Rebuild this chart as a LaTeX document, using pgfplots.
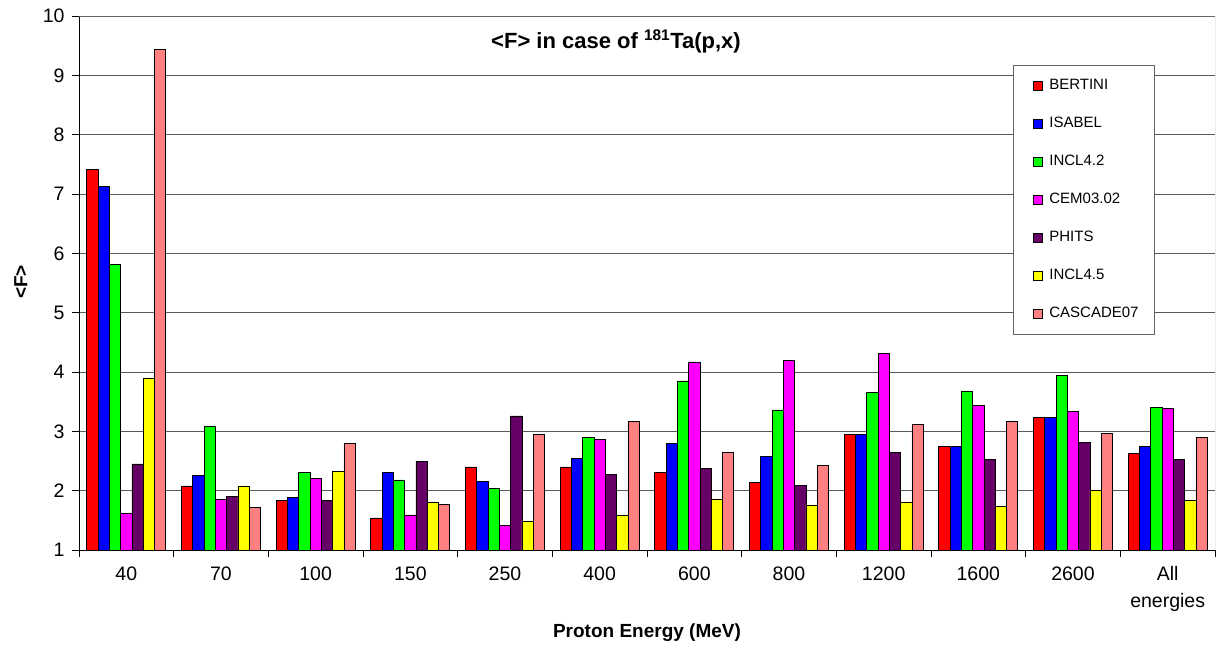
\documentclass[border=0pt]{standalone}
\usepackage{pgfplots}
\pgfplotsset{compat=1.18}
\usepackage{fontspec}
\setmainfont{Liberation Sans}
\definecolor{cBert}{HTML}{FF0000}
\definecolor{cIsa}{HTML}{0000FF}
\definecolor{cIncl}{HTML}{00FF00}
\definecolor{cCem}{HTML}{FF00FF}
\definecolor{cPhits}{HTML}{660066}
\definecolor{cInclf}{HTML}{FFFF00}
\definecolor{cCasc}{HTML}{FF8080}
\begin{document}
\begin{tikzpicture}
\useasboundingbox (0,0) rectangle (1222pt,648pt);
\begin{axis}[
  at={(79pt,98pt)}, anchor=south west,
  scale only axis, width=1136pt, height=534pt,
  ybar=0pt, bar width=11.3pt,
  ymin=1, ymax=10, ytick={1,2,...,10},
  xmin=-0.5, xmax=11.5,
  xtick={-0.5,0.5,...,11.5},
  x tick label as interval,
  xticklabels={40,70,100,150,250,400,600,800,1200,1600,2600,{All\\energies}},
  xticklabel style={align=center, font=\fontsize{19.5}{26.5}\selectfont, yshift=-6pt},
  yticklabel style={font=\fontsize{19.5}{22}\selectfont, xshift=-4pt},
  /pgf/number format/assume math mode=true,
  tick align=outside,
  major tick length=7pt,
  tick style={black, line width=0.8pt},
  axis x line*=bottom, axis y line*=left,
  axis line style={-, black, line width=1pt},
  ymajorgrids, grid style={black!65, line width=0.8pt},
  title={\bfseries\fontsize{22}{26}\selectfont <F> in case of \textsuperscript{181}Ta(p,x)},
  title style={at={(axis description cs:0.4727,0.928)}, anchor=base, inner sep=0pt},
  xlabel={\bfseries\fontsize{19}{22}\selectfont Proton Energy (MeV)},
  xlabel style={at={(axis description cs:0.5,-0.1554)}, anchor=center, inner sep=0pt},
  ylabel={\bfseries\fontsize{19}{22}\selectfont <F>},
  ylabel style={at={(axis description cs:-0.0511,0.502)}, anchor=center, inner sep=0pt},
  every axis plot/.append style={draw=black, line width=0.8pt},
  legend image code/.code={\path (0pt,0pt) (19pt,0pt); \draw[#1, draw=black, line width=0.7pt] (5.5pt,-4.5pt) rectangle (14.5pt,4.5pt);},
  legend style={at={(axis description cs:0.8222,0.9082)}, anchor=north west,
    draw=black!60, line width=1pt, fill=white,
    font=\fontsize{15}{16}\selectfont,
    inner xsep=14pt, inner ysep=14.3pt, row sep=24.9pt,
    nodes={text height=10pt, text depth=3pt, inner ysep=0pt}},
  legend cell align=left,
]
\addplot[fill=cBert] coordinates {(0,7.42) (1,2.08) (2,1.83) (3,1.54) (4,2.40) (5,2.40) (6,2.31) (7,2.14) (8,2.94) (9,2.75) (10,3.23) (11,2.63)};
\addlegendentry{BERTINI}
\addplot[fill=cIsa] coordinates {(0,7.13) (1,2.25) (2,1.88) (3,2.30) (4,2.16) (5,2.55) (6,2.80) (7,2.58) (8,2.94) (9,2.75) (10,3.23) (11,2.75)};
\addlegendentry{ISABEL}
\addplot[fill=cIncl] coordinates {(0,5.82) (1,3.08) (2,2.30) (3,2.18) (4,2.03) (5,2.90) (6,3.85) (7,3.36) (8,3.65) (9,3.68) (10,3.94) (11,3.41)};
\addlegendentry{INCL4.2}
\addplot[fill=cCem] coordinates {(0,1.61) (1,1.855) (2,2.21) (3,1.59) (4,1.42) (5,2.87) (6,4.17) (7,4.19) (8,4.32) (9,3.43) (10,3.33) (11,3.38)};
\addlegendentry{CEM03.02}
\addplot[fill=cPhits] coordinates {(0,2.45) (1,1.91) (2,1.83) (3,2.50) (4,3.26) (5,2.28) (6,2.38) (7,2.09) (8,2.65) (9,2.53) (10,2.82) (11,2.53)};
\addlegendentry{PHITS}
\addplot[fill=cInclf] coordinates {(0,3.89) (1,2.08) (2,2.32) (3,1.81) (4,1.49) (5,1.59) (6,1.86) (7,1.76) (8,1.81) (9,1.74) (10,2.01) (11,1.84)};
\addlegendentry{INCL4.5}
\addplot[fill=cCasc] coordinates {(0,9.43) (1,1.72) (2,2.79) (3,1.77) (4,2.94) (5,3.16) (6,2.65) (7,2.43) (8,3.11) (9,3.16) (10,2.96) (11,2.90)};
\addlegendentry{CASCADE07}
\draw[black!60, line width=1pt] (rel axis cs:0,1) -- (rel axis cs:1,1) -- (rel axis cs:1,0);
\end{axis}
\end{tikzpicture}
\end{document}
